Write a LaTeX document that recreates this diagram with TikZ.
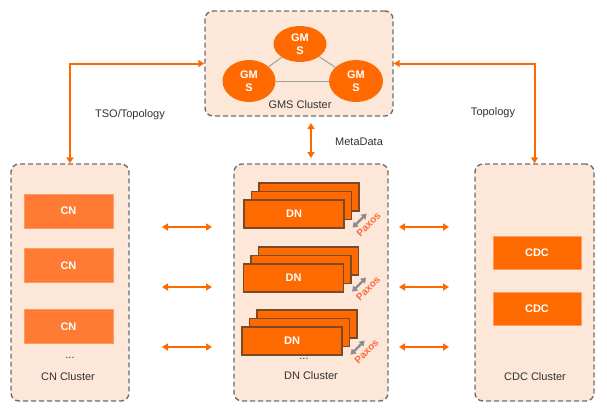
\documentclass[tikz,border=0pt]{standalone}
\usepackage{fontspec}
\setmainfont{Liberation Sans}
\usetikzlibrary{arrows.meta,shapes.geometric}
\definecolor{clfill}{HTML}{FDE7D8}
\definecolor{clborder}{HTML}{6E6E6E}
\definecolor{orA}{HTML}{FF6A00}
\definecolor{cnfill}{HTML}{FF7A33}
\definecolor{cnline}{HTML}{FF9A66}
\definecolor{dnborder}{HTML}{7A4A28}
\definecolor{txt}{HTML}{333333}
\definecolor{paxoscol}{HTML}{FF6A3D}
\definecolor{linkgray}{HTML}{A0A0A0}
\definecolor{paxgray}{HTML}{8C8C8C}
\begin{document}
\begin{tikzpicture}[x=1pt,y=-1pt,
  cluster/.style={draw=clborder, fill=clfill, dash pattern=on 5pt off 3pt, line width=1.4pt, rounded corners=8pt, inner sep=0pt},
  cnbox/.style={fill=cnfill, draw=cnline, line width=0.6pt, minimum width=89pt, minimum height=34pt, inner sep=0pt, text=white, font=\fontsize{11}{13}\selectfont\bfseries},
  cdcbox/.style={fill=orA, draw=cnline, line width=0.6pt, minimum width=88pt, minimum height=33pt, inner sep=0pt, text=white, font=\fontsize{11}{13}\selectfont\bfseries},
  dnbox/.style={fill=orA, draw=dnborder, line width=1.2pt, minimum width=100pt, minimum height=28pt, inner sep=0pt, text=white, font=\fontsize{11}{13}\selectfont\bfseries},
  gmsnode/.style={ellipse, fill=orA, inner sep=0pt, text=white, align=center, font=\fontsize{11}{12.5}\selectfont\bfseries},
  lbl/.style={text=txt, font=\fontsize{11}{13}\selectfont, inner sep=0pt},
  oarrow/.style={draw=orA, line width=2pt, {Triangle[length=6pt,width=7pt]}-{Triangle[length=6pt,width=7pt]}},
  paxarrow/.style={draw=paxgray, line width=2.4pt, {Triangle[length=5pt,width=6.5pt]}-{Triangle[length=5pt,width=6.5pt]}},
  paxlbl/.style={text=paxoscol, rotate=45, font=\fontsize{10}{12}\selectfont\bfseries, inner sep=0pt},
  link/.style={draw=linkgray, line width=1pt}
]
\useasboundingbox (0,0) rectangle (607,413);
\fill[white] (0,0) rectangle (607,413);

% clusters
\node[cluster, minimum width=188pt, minimum height=105pt] (gms) at (299,63.5) {};
\node[cluster, minimum width=118pt, minimum height=237pt] (cn) at (70,282.5) {};
\node[cluster, minimum width=154pt, minimum height=237pt] (dn) at (311,282.5) {};
\node[cluster, minimum width=119pt, minimum height=237pt] (cdc) at (534.5,282.5) {};

% GMS
\node[gmsnode, minimum width=53pt, minimum height=36pt] (g1) at (300,44) {GM\\S};
\node[gmsnode, minimum width=53pt, minimum height=42pt] (g2) at (249,81) {GM\\S};
\node[gmsnode, minimum width=54pt, minimum height=42pt] (g3) at (356,81) {GM\\S};
\begin{scope}[on background layer/.style={}]
\end{scope}
\draw[link] (g1) -- (g2);
\draw[link] (g1) -- (g3);
\draw[link] (g2) -- (g3);
\node[lbl] (gmslbl) at (300,105) {GMS Cluster};

% CN
\node[cnbox] (cn1) at (68.5,211) {CN};
\node[cnbox] (cn2) at (68.5,265.5) {CN};
\node[cnbox] (cn3) at (68.5,326.5) {CN};
\node[lbl] (cndots) at (70,358) {...};
\node[lbl] (cnlbl) at (68,377) {CN Cluster};

% CDC
\node[cdcbox] (cdc1) at (537,252.5) {CDC};
\node[cdcbox] (cdc2) at (537,308.5) {CDC};
\node[lbl] (cdclbl) at (535,377) {CDC Cluster};

% DN stacks
\foreach \i/\cx/\cy in {1/294/214, 2/293.5/278, 3/292/341}{
  \node[dnbox] (dnb\i) at (\cx+15,\cy-17) {};
  \node[dnbox] (dnm\i) at (\cx+7.5,\cy-8.5) {};
  \node[dnbox] (dnf\i) at (\cx,\cy) {DN};
  \coordinate (pa\i) at ([shift={(8,-1)}]dnf\i.south east);
  \coordinate (pb\i) at ([shift={(22,-15)}]dnf\i.south east);
  \draw[paxarrow] (pa\i) -- (pb\i);
  \node[paxlbl] (pax\i) at ([shift={(24,-4)}]dnf\i.south east) {Paxos};
}
\node[lbl] (dndots) at (304,359) {...};
\node[lbl] (dnlbl) at (311,376) {DN Cluster};

% horizontal arrows
\foreach \j/\yy in {1/227, 2/287, 3/347}{
  \coordinate (la\j) at (162,\yy);
  \coordinate (lb\j) at (212,\yy);
  \coordinate (ra\j) at (399,\yy);
  \coordinate (rb\j) at (449,\yy);
  \draw[oarrow] (la\j) -- (lb\j);
  \draw[oarrow] (ra\j) -- (rb\j);
}

% MetaData
\coordinate (ma) at (311,123);
\coordinate (mb) at (311,158);
\draw[oarrow] (ma) -- (mb);
\node[lbl, anchor=west] (metalbl) at (335,142) {MetaData};

% TSO / Topology
\draw[oarrow] (gms.west) -| (cn.north);
\node[lbl] (tsolbl) at (130,115) {TSO/Topology};
\draw[oarrow] (gms.east) -| (cdc.north);
\node[lbl] (topolbl) at (493,113) {Topology};
\end{tikzpicture}
\end{document}
